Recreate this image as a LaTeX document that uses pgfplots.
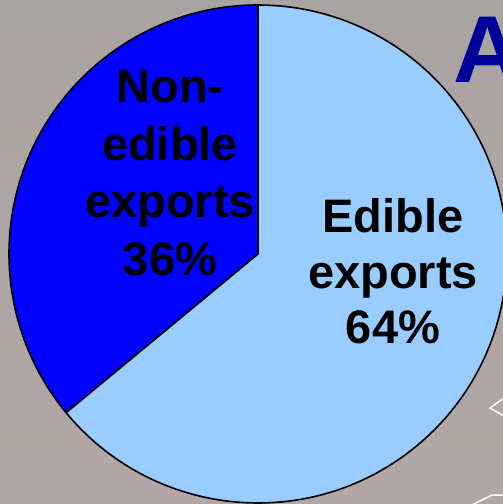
\documentclass[border=0pt]{standalone}
\usepackage{pgfplots}
\usepackage{pgfplotstable}
\pgfplotsset{compat=1.18}
\usepackage{fontspec}
\setmainfont{Liberation Sans}
\definecolor{bgtop}{RGB}{168,164,161}
\definecolor{bgbot}{RGB}{178,167,166}
\definecolor{nonedible}{RGB}{0,0,255}
\definecolor{edible}{RGB}{153,204,255}
\definecolor{titleblue}{RGB}{0,0,153}
\pgfplotstableread{
label value
Edible 64
Nonedible 36
}\piedata
\begin{document}
\begin{tikzpicture}
\pgfplotstablegetelem{1}{value}\of\piedata
\pgfmathsetmacro\nonval{\pgfplotsretval}
\pgfmathsetmacro\angA{90}
\pgfmathsetmacro\angB{90+3.6*\nonval}
\pgfplotstablegetelem{0}{value}\of\piedata
\pgfmathsetmacro\edval{\pgfplotsretval}
\pgfmathsetmacro\angC{\angB+3.6*\edval}
\begin{axis}[x=1bp, y=1bp, xmin=0, xmax=503, ymin=0, ymax=504,
  hide axis, clip=true, anchor=south west, at={(0,0)}]
  \fill[top color=bgtop, bottom color=bgbot] (axis cs:0,0) rectangle (axis cs:503,504);
  % chevrons
  \draw[white, line width=1.5bp] (axis cs:504,106) -- (axis cs:490,96) -- (axis cs:504,88);
  \draw[white, line width=1.5bp] (axis cs:472,-1) -- (axis cs:492,9) -- (axis cs:504,9);
  % pie slices
  \filldraw[fill=nonedible, draw=black, line width=1.6bp, line join=miter]
    (axis cs:258,250) -- ++(\angA:249bp) arc[start angle=\angA, end angle=\angB, radius=249bp] -- cycle;
  \filldraw[fill=edible, draw=black, line width=1.6bp, line join=miter]
    (axis cs:258,250) -- ++(\angB:249bp) arc[start angle=\angB, end angle=\angC, radius=249bp] -- cycle;
  % labels
  \begin{scope}[every node/.style={inner sep=0pt, anchor=base, font=\fontsize{47bp}{56bp}\selectfont\bfseries}]
  \node at (axis cs:170,401) {Non-};
  \node at (axis cs:170,344) {edible};
  \node at (axis cs:170,287) {exports};
  \node at (axis cs:170,229) {36\%};
  \node at (axis cs:393,272) {Edible};
  \node at (axis cs:393,216) {exports};
  \node at (axis cs:393,161) {64\%};
  \end{scope}
  \node[inner sep=0pt, anchor=base west, text=titleblue, font=\fontsize{95bp}{100bp}\selectfont\bfseries] at (axis cs:453,421) {A};
\end{axis}
\pgfresetboundingbox
\path[use as bounding box] (0,0) rectangle (503bp,504bp);
\end{tikzpicture}
\end{document}
